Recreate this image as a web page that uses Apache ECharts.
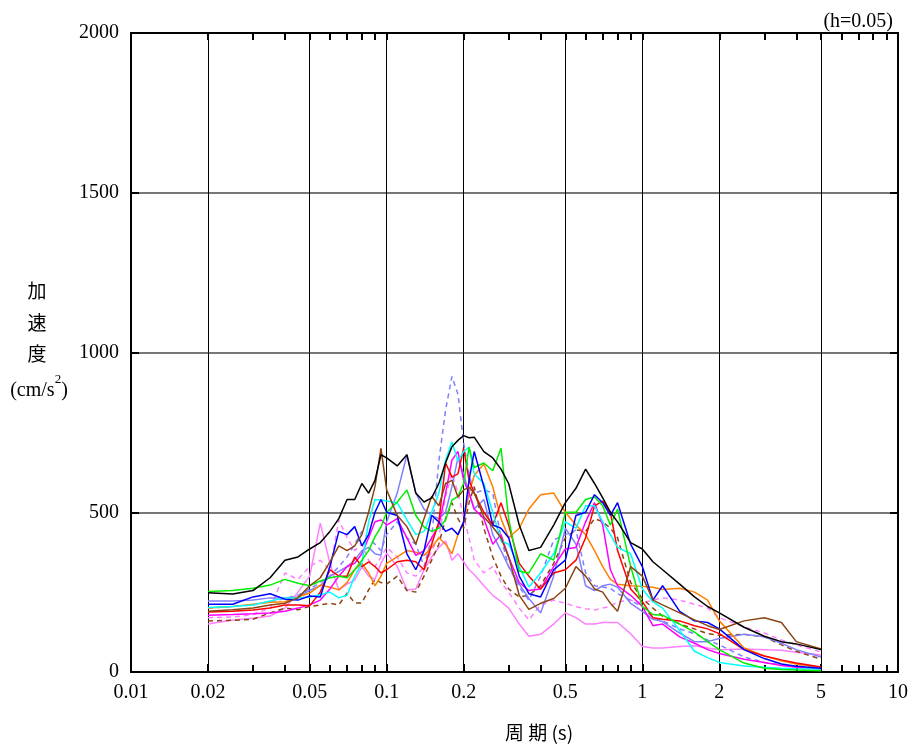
<!DOCTYPE html>
<html><head><meta charset="utf-8">
<script src="https://cdn.jsdelivr.net/npm/echarts@6/dist/echarts.min.js"></script>
<style>html,body{margin:0;padding:0;background:#fff}#c{width:912px;height:747px}</style>
</head><body><div id="c"></div>
<script>
const periods = [0.02,0.025,0.03,0.035,0.04,0.045,0.05,0.055,0.06,0.065,0.07,0.075,0.08,0.085,0.09,0.095,0.1,0.11,0.12,0.13,0.14,0.15,0.16,0.17,0.18,0.19,0.2,0.21,0.22,0.24,0.26,0.28,0.3,0.33,0.36,0.4,0.45,0.5,0.55,0.6,0.65,0.7,0.75,0.8,0.9,1.0,1.1,1.2,1.4,1.6,1.8,2.0,2.5,3.0,3.5,4.0,5.0];

const blackVals = [248,244,255,295,350,360,385,405,440,480,540,540,590,560,600,680,670,645,680,560,532,545,590,655,705,725,740,733,735,690,670,635,590,460,380,390,460,530,575,635,590,545,500,470,405,385,345,320,275,235,205,185,140,112,95,88,70];
const brownVals = [190,195,200,210,215,232,270,295,345,395,380,395,430,500,580,700,570,490,455,400,480,550,520,590,600,548,570,578,560,485,454,420,360,240,196,215,230,262,330,300,260,250,215,190,330,300,225,210,185,163,145,133,160,170,155,95,72];
const blueVals = [212,212,235,245,228,225,238,235,330,440,430,455,395,430,500,540,500,490,370,320,380,490,470,440,450,430,470,600,690,580,460,450,420,300,245,235,320,350,490,500,555,530,490,530,400,330,225,270,190,160,155,135,70,42,25,18,12];
const lightBlueVals = [222,222,225,232,232,235,255,270,300,315,330,350,380,390,370,365,470,560,680,560,510,490,480,500,580,670,620,560,510,540,430,380,330,275,230,185,300,450,400,270,255,270,275,265,215,190,165,158,122,95,95,105,118,110,90,70,47];
const lightBlueDashVals = [200,205,210,220,230,240,260,280,300,330,360,400,440,420,400,380,430,470,420,400,330,420,660,820,925,870,717,620,560,570,560,420,330,266,225,300,413,430,444,310,270,266,262,245,225,204,170,160,135,120,100,85,47,30,22,18,15];
const greenVals = [252,255,262,272,290,278,270,285,295,300,295,320,350,380,423,454,500,532,570,490,454,440,450,476,538,550,590,704,640,654,630,701,480,315,310,370,350,500,500,540,548,520,460,510,330,205,180,178,150,125,95,70,28,12,8,6,4];
const cyanVals = [202,205,210,222,232,232,235,242,250,232,240,300,340,470,540,538,535,530,476,430,440,500,560,663,720,660,690,704,620,590,500,410,400,330,266,310,370,470,450,520,520,470,430,390,370,260,220,200,130,65,45,30,19,15,12,10,9];
const redVals = [188,190,194,200,210,210,207,250,320,300,300,360,330,345,330,310,320,345,350,345,320,400,470,654,610,620,700,600,560,500,460,530,460,340,300,260,310,320,350,420,520,535,500,380,260,220,170,165,160,145,135,120,70,50,38,28,16];
const magentaVals = [178,180,182,185,190,200,210,225,260,300,330,340,370,420,470,476,460,480,420,365,380,420,460,560,663,690,600,560,510,480,400,430,360,280,255,260,330,385,390,470,530,460,320,270,240,205,145,150,110,90,70,58,40,30,20,15,9];
const orangeVals = [200,205,212,218,220,235,247,272,265,257,280,320,340,310,270,300,340,360,380,375,365,390,420,400,370,430,470,560,615,651,580,480,420,450,510,555,560,500,460,430,380,330,290,275,270,268,265,258,262,250,225,160,75,50,35,25,14];
const pinkVals = [150,163,168,175,200,250,300,466,340,257,275,288,330,300,290,340,372,330,257,260,320,360,390,410,350,370,345,320,305,270,240,220,200,150,112,118,150,185,170,150,150,155,155,155,120,80,75,75,80,82,75,70,72,70,68,62,53];
const pinkDashVals = [170,172,180,200,310,290,330,350,320,476,420,380,400,350,330,360,390,360,310,300,330,380,420,550,620,560,485,420,350,310,330,280,250,200,163,210,225,215,204,198,194,200,205,220,225,216,225,232,225,212,200,170,141,122,100,85,63];
const brownDashVals = [160,162,165,185,200,195,205,210,215,210,247,216,216,257,290,280,275,300,255,250,300,350,400,480,530,480,450,530,580,450,360,300,260,235,240,270,340,420,445,440,480,470,450,420,280,230,200,175,150,135,120,115,118,110,85,65,40];

const majorTicks = [0.01,0.02,0.05,0.1,0.2,0.5,1,2,5,10];
const minorTicks = [0.03,0.04,0.06,0.07,0.08,0.09,0.3,0.4,0.6,0.7,0.8,0.9,3,4,6,7,8,9];

const seriesDefs = [
  ['pinkDash', pinkDashVals, '#ff80ff', 'dashed'],
  ['pink', pinkVals, '#ff80ff', 'solid'],
  ['brownDash', brownDashVals, '#8b4513', 'dashed'],
  ['lightBlueDash', lightBlueDashVals, '#8080ff', 'dashed'],
  ['lightBlue', lightBlueVals, '#8080ff', 'solid'],
  ['orange', orangeVals, '#ff8000', 'solid'],
  ['magenta', magentaVals, '#ff00ff', 'solid'],
  ['red', redVals, '#ff0000', 'solid'],
  ['cyan', cyanVals, '#00ffff', 'solid'],
  ['green', greenVals, '#00ee00', 'solid'],
  ['blue', blueVals, '#0000ff', 'solid'],
  ['brown', brownVals, '#8b4513', 'solid'],
  ['black', blackVals, '#000000', 'solid']
];

const FONT = 'Liberation Serif';
const CJK = '"Noto Sans CJK JP"';
const fmt = v => String(+(+v).toPrecision(3));

const chart = echarts.init(document.getElementById('c'), null, {renderer:'canvas'});
chart.setOption({
  animation: false,
  backgroundColor: '#fff',
  grid: {left:131, right:14, top:33, bottom:75},
  title: {text:'(h=0.05)', right:14, top:7, textStyle:{fontFamily:FONT, fontSize:20, fontWeight:'normal', color:'#000'}},
  xAxis: [
    {type:'log', logBase:10, min:0.01, max:10, position:'bottom',
     axisLine:{show:true, onZero:false, lineStyle:{color:'#000', width:2}},
     axisTick:{show:true, inside:true, length:8, customValues:majorTicks, lineStyle:{color:'#000', width:2}},
     axisLabel:{show:true, customValues:majorTicks, formatter:fmt, margin:11, fontFamily:FONT, fontSize:20, color:'#000'},
     splitLine:{show:true, lineStyle:{color:'#000', width:1}},
     minorTick:{show:false}},
    {type:'log', logBase:10, min:0.01, max:10, position:'bottom',
     axisLine:{show:false},
     axisTick:{show:true, inside:true, length:7, customValues:minorTicks, lineStyle:{color:'#000', width:2}},
     axisLabel:{show:false}, splitLine:{show:false}},
    {type:'log', logBase:10, min:0.01, max:10, position:'top',
     axisLine:{show:true, onZero:false, lineStyle:{color:'#000', width:2}},
     axisTick:{show:true, inside:true, length:7, customValues:majorTicks.concat(minorTicks), lineStyle:{color:'#000', width:2}},
     axisLabel:{show:false}, splitLine:{show:false}}
  ],
  yAxis: [
    {type:'value', min:0, max:2000, interval:500, position:'left',
     axisLine:{show:true, onZero:false, lineStyle:{color:'#000', width:2}},
     axisTick:{show:true, inside:true, length:8, lineStyle:{color:'#000', width:2}},
     axisLabel:{show:true, margin:12, formatter:v => String(v), fontFamily:FONT, fontSize:20, color:'#000'},
     splitLine:{show:true, lineStyle:{color:'#777', width:2}}},
    {type:'value', min:0, max:2000, interval:500, position:'right',
     axisLine:{show:true, onZero:false, lineStyle:{color:'#000', width:2}},
     axisTick:{show:true, inside:true, length:8, lineStyle:{color:'#000', width:2}},
     axisLabel:{show:false}, splitLine:{show:false}}
  ],
  graphic: [
    {type:'text', x:37, y:291, silent:true, style:{text:'加', font:'19px ' + CJK, fill:'#000', align:'center', verticalAlign:'middle'}},
    {type:'text', x:37, y:323, silent:true, style:{text:'速', font:'19px ' + CJK, fill:'#000', align:'center', verticalAlign:'middle'}},
    {type:'text', x:37, y:354, silent:true, style:{text:'度', font:'19px ' + CJK, fill:'#000', align:'center', verticalAlign:'middle'}},
    {type:'text', x:39, y:387, silent:true, style:{text:'{a|(cm/s}{s|2}{a|)}', align:'center', verticalAlign:'middle', fill:'#000',
      rich:{a:{fontFamily:FONT, fontSize:20, color:'#000', lineHeight:28, verticalAlign:'bottom'}, s:{fontFamily:FONT, fontSize:13, color:'#000', lineHeight:14, verticalAlign:'top'}}}},
    {type:'text', x:539, y:733, silent:true, style:{text:'周 期 (s)', font:'19px ' + CJK, fill:'#000', align:'center', verticalAlign:'middle'}}
  ],
  series: seriesDefs.map(([name, vals, color, type]) => ({
    name, type:'line', xAxisIndex:0, yAxisIndex:0, symbol:'none', smooth:false,
    lineStyle:{color, width:1.5, type: type === 'dashed' ? [5,4] : 'solid'},
    data: periods.map((p, i) => [p, vals[i]])
  }))
});
</script></body></html>
